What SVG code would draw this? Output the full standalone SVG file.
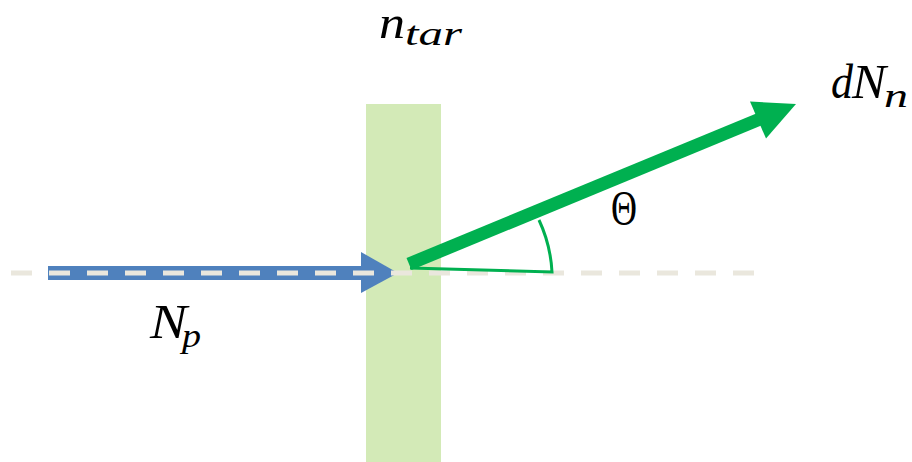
<svg xmlns="http://www.w3.org/2000/svg" width="912" height="462" viewBox="0 0 912 462">
<style>
.math{font-family:"Liberation Serif","Times New Roman",serif;font-style:italic;fill:#000}
.up{font-family:"Liberation Serif","Times New Roman",serif;fill:#000}
</style>
<rect width="912" height="462" fill="#fff"/>
<g id="target">
<rect x="366" y="104" width="75" height="358" fill="#D3EAB7"/>
</g>
<g id="connectors">
<g id="incoming">
<rect x="48" y="266" width="314" height="14" fill="#4F81BD"/>
<polygon points="361,252 398,273 361,293" fill="#4F81BD"/>
</g>
<line id="axis" x1="11" y1="273" x2="760" y2="273" stroke="#EAE7DD" stroke-width="5" stroke-dasharray="21 17"/>
<path id="angle" d="M539 220 A140 140 0 0 1 552 272 L410 268" fill="none" stroke="#00B050" stroke-width="3"/>
<g id="outgoing">
<line x1="409" y1="264" x2="760" y2="119" stroke="#00B050" stroke-width="13"/>
<polygon points="796,104 750,101.5 766,138.5" fill="#00B050"/>
</g>
</g>
<g id="labels">
<text class="math" x="379" y="38" font-size="46" textLength="26" lengthAdjust="spacingAndGlyphs">n</text>
<text class="math" x="405" y="45" font-size="33" textLength="57" lengthAdjust="spacingAndGlyphs">tar</text>
<text class="math" x="150" y="338" font-size="48" textLength="37" lengthAdjust="spacingAndGlyphs">N</text>
<text class="math" x="182" y="347" font-size="33" textLength="19" lengthAdjust="spacingAndGlyphs">p</text>
<text class="math" x="831" y="98" font-size="48" textLength="22" lengthAdjust="spacingAndGlyphs">d</text>
<text class="math" x="852" y="98" font-size="48" textLength="34" lengthAdjust="spacingAndGlyphs">N</text>
<text class="math" x="884" y="107" font-size="33" textLength="24" lengthAdjust="spacingAndGlyphs">n</text>
<text class="up" x="611" y="225" font-size="50" textLength="26" lengthAdjust="spacingAndGlyphs">Θ</text>
</g>
</svg>
